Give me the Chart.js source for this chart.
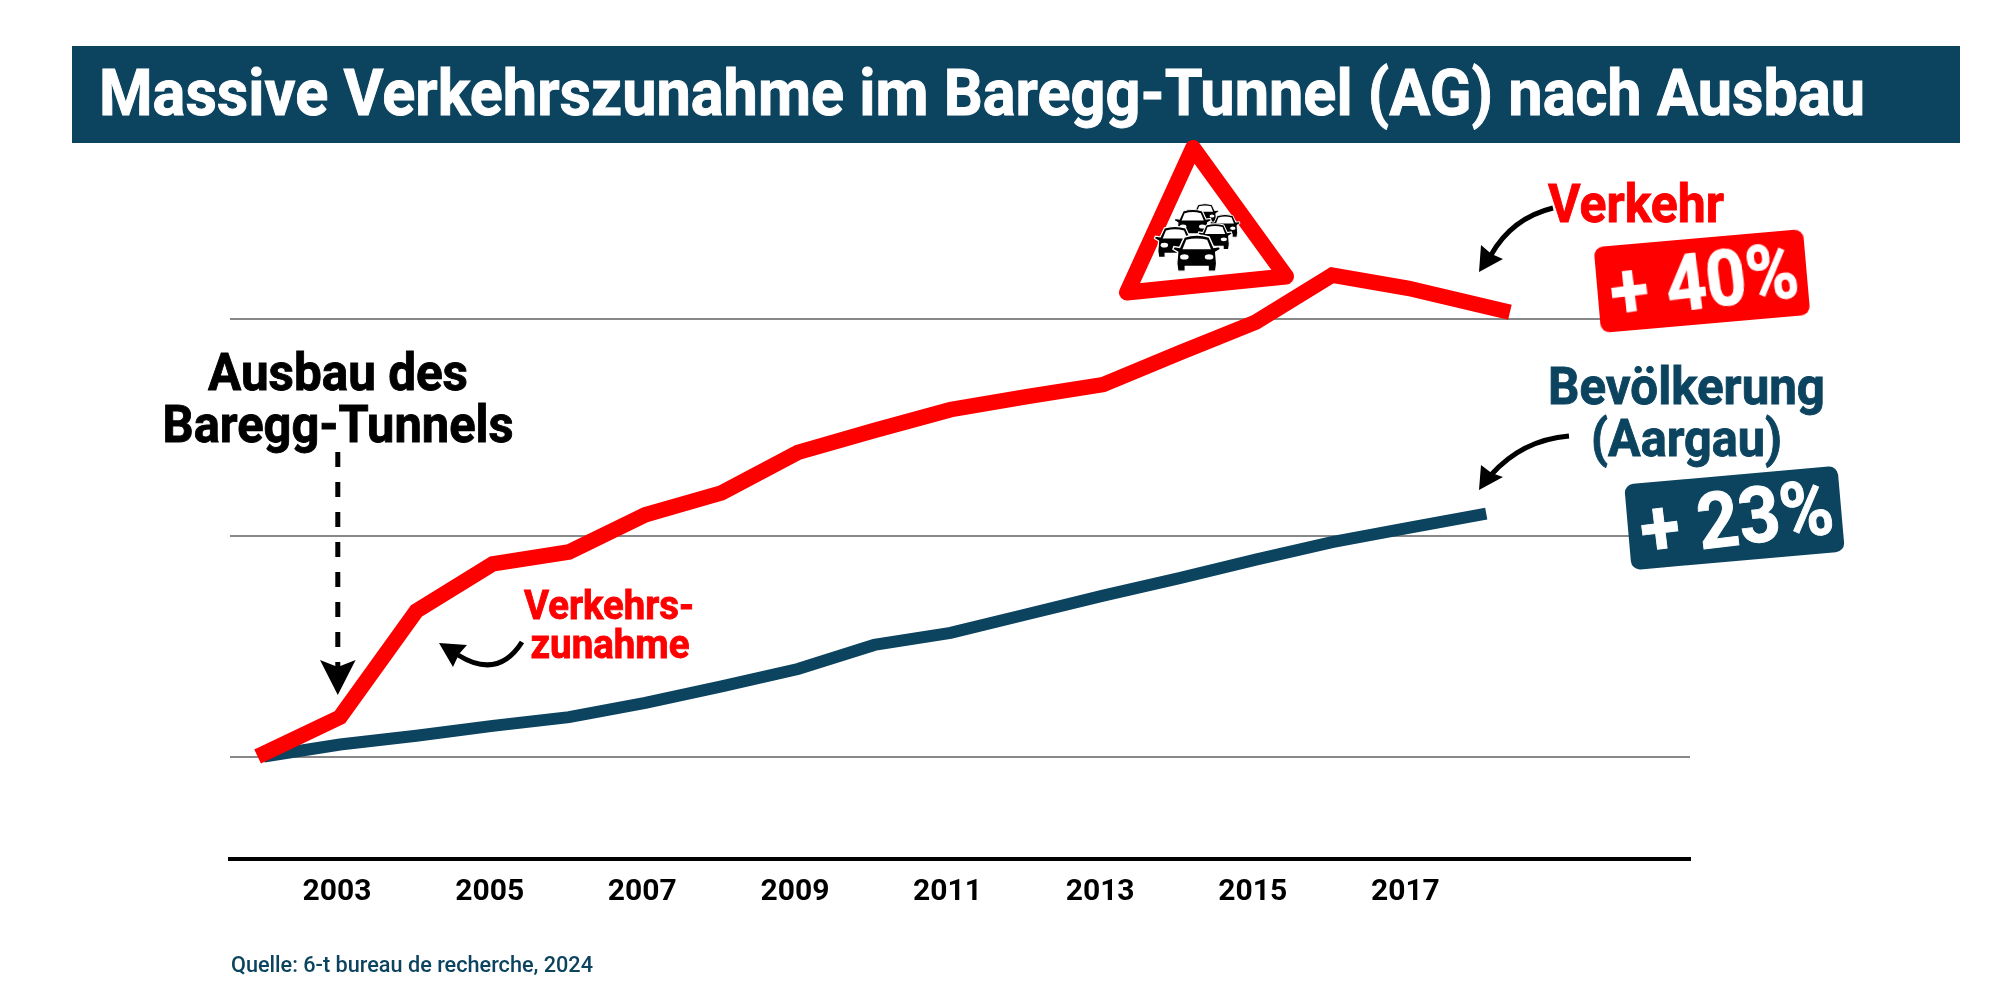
<!DOCTYPE html>
<html lang="de">
<head>
<meta charset="utf-8">
<title>Massive Verkehrszunahme im Baregg-Tunnel</title>
<script src="https://cdn.jsdelivr.net/npm/chart.js@4"></script>
<style>
  html, body { margin: 0; background: #fff; }
  #wrap { position: relative; width: 2000px; height: 1000px; overflow: hidden; }
  canvas, svg { position: absolute; left: 0; top: 0; }
  svg text { font-family: Roboto, sans-serif; font-weight: 700; stroke-width: .9; }
</style>
</head>
<body>
<div id="wrap">
  <canvas id="chart" width="2000" height="1000"></canvas>
  <svg width="2000" height="1000" viewBox="0 0 2000 1000">
    <defs>
      <g id="car">
        <path d="M-20 -3 L-25 -6 L-24 -9 L-18 -8 L-13 -19 Q0 -23 13 -19 L18 -8 L24 -9 L25 -6 L20 -3 L21 9 L20 17 L12 17 L12 12 L-12 12 L-12 17 L-20 17 L-21 9 Z" fill="#000" stroke="#fff" stroke-width="1.5"/>
        <path d="M-11 -16 Q0 -19 11 -16 L15 -6 L-15 -6 Z" fill="#fff"/>
        <ellipse cx="-13" cy="2" rx="4.5" ry="2.8" fill="#fff"/>
        <ellipse cx="13" cy="2" rx="4.5" ry="2.8" fill="#fff"/>
      </g>
    </defs>

    <!-- title banner -->
    <rect x="72" y="46" width="1888" height="97" fill="#0c4460"/>
    <text x="99" y="115" font-size="64" fill="#fff" stroke="#fff" textLength="1766" lengthAdjust="spacingAndGlyphs">Massive Verkehrszunahme im Baregg-Tunnel (AG) nach Ausbau</text>

    <!-- traffic sign -->
    <path d="M1193 148 L1127 292.5 L1286 276.5 Z" fill="#fff" stroke="#f00" stroke-width="16" stroke-linejoin="round"/>
    <use href="#car" transform="translate(1205 215) scale(.54)"/>
    <use href="#car" transform="translate(1225 227) scale(.6)"/>
    <use href="#car" transform="translate(1192.7 225) scale(.74)"/>
    <use href="#car" transform="translate(1215 238) scale(.68)"/>
    <use href="#car" transform="translate(1175 243.5) scale(.82)"/>
    <use href="#car" transform="translate(1196.7 255) scale(.95)"/>

    <!-- Ausbau annotation -->
    <text x="338" y="390" font-size="52" stroke="#000" text-anchor="middle" textLength="260" lengthAdjust="spacingAndGlyphs">Ausbau des</text>
    <text x="338" y="442" font-size="52" stroke="#000" text-anchor="middle" textLength="351" lengthAdjust="spacingAndGlyphs">Baregg-Tunnels</text>
    <line x1="337.8" y1="452" x2="337.8" y2="668" stroke="#000" stroke-width="5" stroke-dasharray="15 15"/>
    <path d="M337.8 695 L320 660 L337.8 667 L355.6 660 Z" fill="#000"/>

    <!-- Verkehrszunahme annotation -->
    <text x="609" y="619" font-size="41" fill="#f00" stroke="#f00" text-anchor="middle" textLength="170" lengthAdjust="spacingAndGlyphs">Verkehrs-</text>
    <text x="610" y="658" font-size="41" fill="#f00" stroke="#f00" text-anchor="middle" textLength="159" lengthAdjust="spacingAndGlyphs">zunahme</text>
    <path d="M522 642 Q498 680 458 655" fill="none" stroke="#000" stroke-width="5"/>
    <path d="M439 643 L467 645 L459 654 L453 667 Z" fill="#000"/>

    <!-- Verkehr label -->
    <text x="1548" y="222" font-size="54" fill="#f00" stroke="#f00" textLength="176" lengthAdjust="spacingAndGlyphs">Verkehr</text>
    <path d="M1553 208 Q1512 218 1491 255" fill="none" stroke="#000" stroke-width="5"/>
    <path d="M1479 272 L1481 245 L1491.5 254 L1503 259 Z" fill="#000"/>
    <g transform="translate(1702 281) rotate(-5)">
      <rect x="-105" y="-43" width="210" height="86" rx="9" fill="#f00"/>
      <text x="2" y="27" font-size="78" fill="#fff" stroke="#fff" text-anchor="middle" textLength="189" lengthAdjust="spacingAndGlyphs" transform="rotate(-2)">+ 40%</text>
    </g>

    <!-- Bevoelkerung label -->
    <text x="1548" y="404" font-size="52" fill="#0c4460" stroke="#0c4460" textLength="277" lengthAdjust="spacingAndGlyphs">Bevölkerung</text>
    <text x="1591" y="456" font-size="52" fill="#0c4460" stroke="#0c4460" textLength="191" lengthAdjust="spacingAndGlyphs">(Aargau)</text>
    <path d="M1569 436 Q1522 440 1491 475" fill="none" stroke="#000" stroke-width="5"/>
    <path d="M1479 490 L1481 465 L1491.5 473 L1503 477 Z" fill="#000"/>
    <g transform="translate(1734.5 518) rotate(-5)">
      <rect x="-107" y="-43" width="214" height="86" rx="9" fill="#0c4460"/>
      <text x="2" y="27" font-size="78" fill="#fff" stroke="#fff" text-anchor="middle" textLength="194" lengthAdjust="spacingAndGlyphs" transform="rotate(-2)">+ 23%</text>
    </g>

    <!-- source -->
    <text x="231" y="972" font-size="21.5" fill="#0c4460" stroke="none" style="font-weight:500" textLength="362" lengthAdjust="spacingAndGlyphs">Quelle: 6-t bureau de recherche, 2024</text>
  </svg>
</div>
<script>
// values, index 2002 = 100
const verkehrYears = [2001.92, 2003, 2004, 2005, 2006, 2007, 2008, 2009, 2010, 2011, 2012, 2013, 2014, 2015, 2016, 2017, 2018.33];
const verkehrValues = [100, 103.6, 113.3, 117.6, 118.7, 122.1, 124.1, 127.8, 129.8, 131.7, 132.9, 134.0, 136.9, 139.7, 144.0, 142.8, 140.6];
const bevoelkerungYears = [2002, 2003, 2004, 2005, 2006, 2007, 2008, 2009, 2010, 2011, 2012, 2013, 2014, 2015, 2016, 2017, 2018.02];
const bevoelkerungValues = [100, 101.1, 101.9, 102.8, 103.6, 104.9, 106.4, 108.0, 110.2, 111.3, 113.0, 114.7, 116.3, 118.0, 119.6, 120.9, 122.2];
const tickYears = [2003, 2005, 2007, 2009, 2011, 2013, 2015, 2017];
const gridValues = [100, 120.2, 140];

const toPoints = (xs, ys) => xs.map((x, i) => ({ x: x, y: ys[i] }));

new Chart(document.getElementById("chart").getContext("2d"), {
  type: "line",
  data: {
    datasets: [
      {
        label: "Verkehr",
        data: toPoints(verkehrYears, verkehrValues),
        borderColor: "#ff0000",
        borderWidth: 15.5,
        borderCapStyle: "butt",
        borderJoinStyle: "miter",
        pointRadius: 0,
        tension: 0,
        order: 1
      },
      {
        label: "Bevölkerung (Aargau)",
        data: toPoints(bevoelkerungYears, bevoelkerungValues),
        borderColor: "#0c4460",
        borderWidth: 12,
        borderCapStyle: "butt",
        borderJoinStyle: "miter",
        pointRadius: 0,
        tension: 0,
        order: 2
      }
    ]
  },
  options: {
    responsive: false,
    animation: false,
    devicePixelRatio: 1,
    layout: { padding: { left: 230, right: 310, top: 120, bottom: 0 } },
    plugins: { legend: { display: false }, tooltip: { enabled: false } },
    scales: {
      x: {
        type: "linear",
        min: 2001.558,
        max: 2020.69,
        afterBuildTicks: scale => { scale.ticks = tickYears.map(v => ({ value: v })); },
        afterFit: scale => { scale.height = 141.2; },
        grid: { display: false },
        border: { color: "#000", width: 4 },
        ticks: {
          autoSkip: false,
          maxRotation: 0,
          padding: 8,
          labelOffset: -3,
          color: "#000",
          font: { family: "Roboto", weight: "bold", size: 30 },
          callback: v => String(v)
        }
      },
      y: {
        min: 90.65,
        max: 158.18,
        afterBuildTicks: scale => { scale.ticks = gridValues.map(v => ({ value: v })); },
        grid: { color: "#888", lineWidth: 2, drawTicks: false },
        border: { display: false },
        ticks: { display: false }
      }
    }
  }
});
</script>
</body>
</html>
